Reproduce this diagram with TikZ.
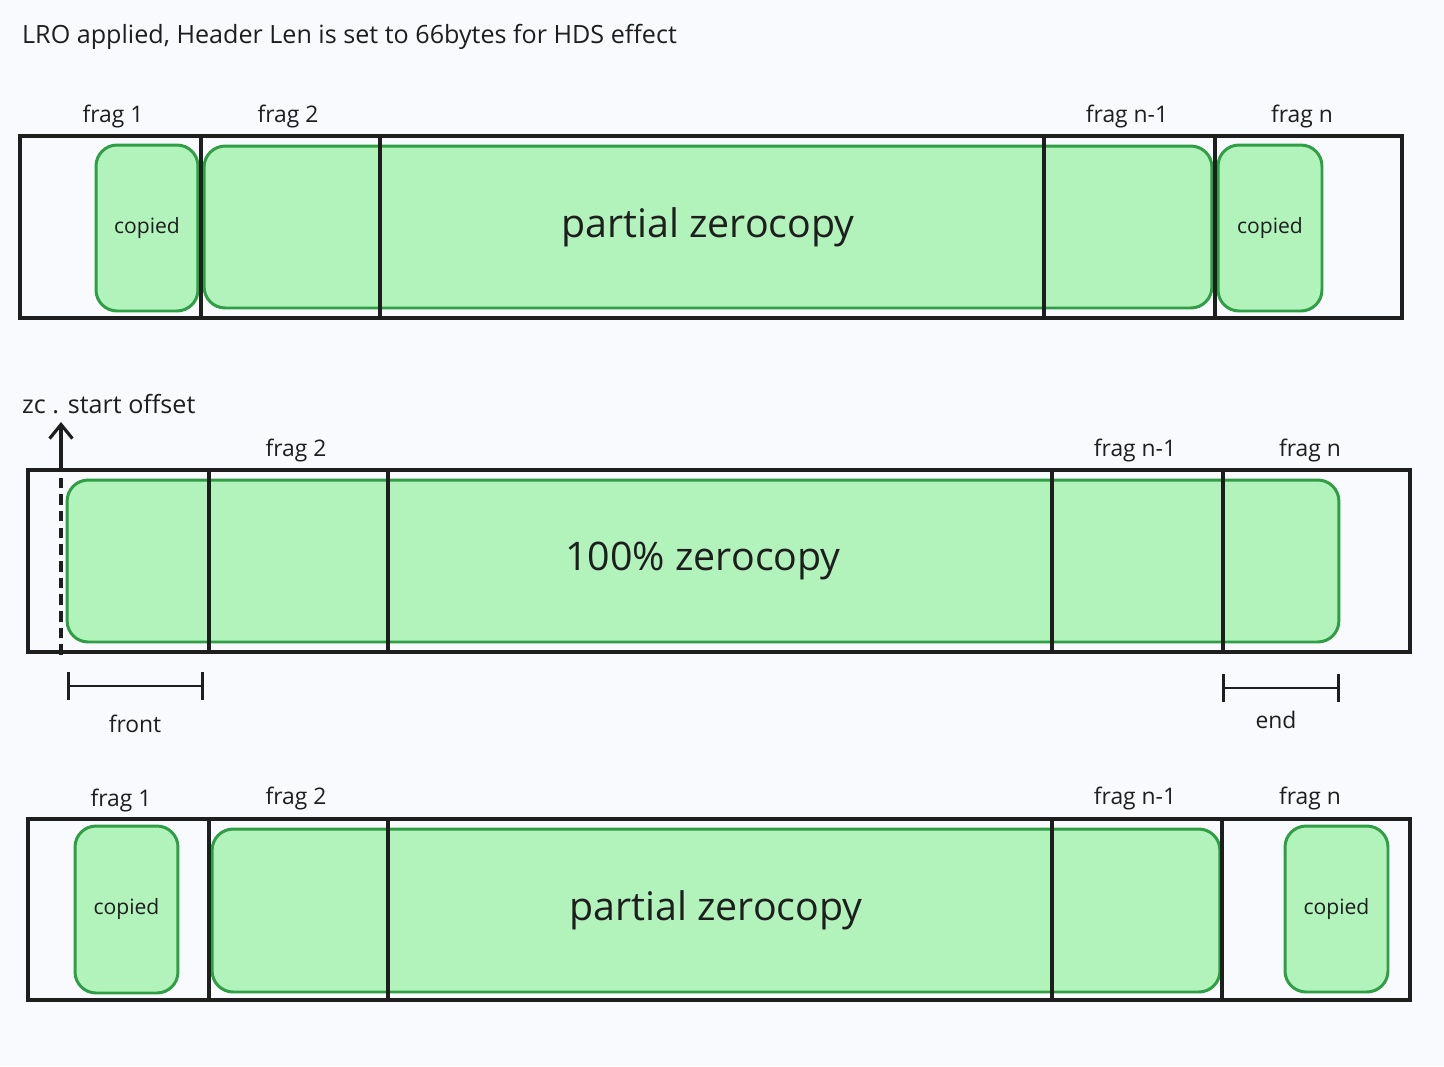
\documentclass[tikz,border=0pt]{standalone}
\usepackage{fontspec}
\setmainfont{Open Sans}
\usepackage{tikz}
\usetikzlibrary{arrows.meta, positioning}
\definecolor{pagebg}{HTML}{F8FAFD}
\definecolor{zcfill}{HTML}{B2F2BB}
\definecolor{zcline}{HTML}{2F9E44}
\definecolor{ink}{HTML}{1E1E1E}
\tikzset{
    packet/.style={
        draw=ink,
        line width=2pt
    },
    divider/.style={
        ink,
        line width=1.8pt
    },
    region/.style={
        draw=zcline,
        fill=zcfill,
        line width=1.7pt,
        rounded corners=12pt,
        inner sep=0pt,
        text=ink
    },
    copied/.style={
        region,
        font=\fontsize{12}{14}\selectfont
    },
    zerocopy/.style={
        region,
        font=\fontsize{22.4}{26}\selectfont
    },
    fraglabel/.style={
        text=ink,
        font=\fontsize{13}{15}\selectfont
    },
    note/.style={
        text=ink,
        anchor=west,
        font=\fontsize{14.3}{17}\selectfont
    },
    span/.style={
        {Bar[width=16pt]}-{Bar[width=16pt]},
        ink,
        line width=1.6pt
    }
}

\begin{document}
\begin{tikzpicture}[x=0.02cm, y=-0.02cm]
    % Page
    \fill[pagebg] (0,0) rectangle (1444,1066);
    \node (Title) [note] at (16,37) {LRO applied, Header Len is set to 66bytes for HDS effect};

    % First packet: partial zerocopy
    \draw [packet] (20,136) rectangle (1402,318);
    \node (CopyFirstA) [copied, minimum width=2.04cm, minimum height=3.32cm] at (147,228) {copied};
    \node (ZeroA) [zerocopy, minimum width=20.16cm, minimum height=3.24cm] at (708,227) {partial zerocopy};
    \node (CopyLastA) [copied, minimum width=2.08cm, minimum height=3.32cm] at (1270,228) {copied};
    \draw [divider] (201,136) -- (201,318);
    \draw [divider] (380,136) -- (380,318);
    \draw [divider] (1044,136) -- (1044,318);
    \draw [divider] (1215,136) -- (1215,318);
    \node (FragOneA) [fraglabel] at (113,116) {frag 1};
    \node (FragTwoA) [fraglabel] at (288,116) {frag 2};
    \node (FragPrevA) [fraglabel] at (1127,116) {frag n-1};
    \node (FragLastA) [fraglabel] at (1302,116) {frag n};

    % Second packet: 100% zerocopy
    \draw [packet] (28,470) rectangle (1410,652);
    \node (ZeroB) [zerocopy, minimum width=25.44cm, minimum height=3.24cm] at (703,561) {100\% zerocopy};
    \draw [divider] (209,470) -- (209,652);
    \draw [divider] (388,470) -- (388,652);
    \draw [divider] (1052,470) -- (1052,652);
    \draw [divider] (1223,470) -- (1223,652);
    \node (FragTwoB) [fraglabel] at (296,450) {frag 2};
    \node (FragPrevB) [fraglabel] at (1135,450) {frag n-1};
    \node (FragLastB) [fraglabel] at (1310,450) {frag n};

    % Start offset marker
    \coordinate (ZcBase) at (61,655);
    \coordinate (ZcEdge) at (61,470);
    \coordinate (ZcTip) at (61,422);
    \node (ZcLabel) [note] at (16,404) {zc . start offset};
    \draw [ink, line width=1.8pt, dash pattern=on 6pt off 3.5pt] (ZcBase) -- (ZcEdge);
    \draw [ink, line width=1.8pt, -{Straight Barb[length=8pt, width=13pt]}] (ZcEdge) -- (ZcTip);

    % Front and end spans
    \coordinate (FrontL) at (67,686);
    \coordinate (FrontR) at (204,686);
    \draw [span] (FrontL) -- (FrontR);
    \node (Front) [fraglabel] at (135,724) {front};
    \coordinate (EndL) at (1222,688);
    \coordinate (EndR) at (1340,688);
    \draw [span] (EndL) -- (EndR);
    \node (End) [fraglabel] at (1276,720) {end};

    % Third packet: partial zerocopy
    \draw [packet] (28,819) rectangle (1410,1000);
    \node (CopyFirstC) [copied, minimum width=2.06cm, minimum height=3.34cm] at (126.5,909.5) {copied};
    \node (ZeroC) [zerocopy, minimum width=20.16cm, minimum height=3.26cm] at (716,910.5) {partial zerocopy};
    \node (CopyLastC) [copied, minimum width=2.06cm, minimum height=3.32cm] at (1336.5,909) {copied};
    \draw [divider] (209,819) -- (209,1000);
    \draw [divider] (388,819) -- (388,1000);
    \draw [divider] (1052,819) -- (1052,1000);
    \draw [divider] (1222,819) -- (1222,1000);
    \node (FragOneC) [fraglabel] at (121,800) {frag 1};
    \node (FragTwoC) [fraglabel] at (296,798) {frag 2};
    \node (FragPrevC) [fraglabel] at (1135,798) {frag n-1};
    \node (FragLastC) [fraglabel] at (1310,798) {frag n};
\end{tikzpicture}
\end{document}
